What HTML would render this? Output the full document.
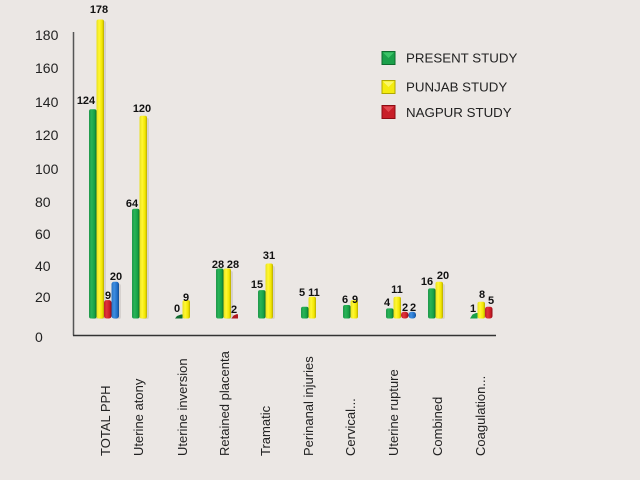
<!DOCTYPE html>
<html><head><meta charset="utf-8"><style>
html,body{margin:0;padding:0;background:#ebe7e4;}
svg{display:block;}
text{font-family:"Liberation Sans",Arial,sans-serif;}
</style></head><body>
<svg width="640" height="480" viewBox="0 0 640 480" xmlns="http://www.w3.org/2000/svg">
<defs>
<linearGradient id="g" x1="0" x2="1" y1="0" y2="0"><stop offset="0" stop-color="#20964a"/><stop offset="0.35" stop-color="#28b457"/><stop offset="0.75" stop-color="#17a045"/><stop offset="1" stop-color="#0d6b2e"/></linearGradient>
<linearGradient id="y" x1="0" x2="1" y1="0" y2="0"><stop offset="0" stop-color="#e6de1c"/><stop offset="0.35" stop-color="#fff734"/><stop offset="0.75" stop-color="#f2e600"/><stop offset="1" stop-color="#b5aa00"/></linearGradient>
<linearGradient id="r" x1="0" x2="1" y1="0" y2="0"><stop offset="0" stop-color="#c02028"/><stop offset="0.35" stop-color="#e0343c"/><stop offset="0.75" stop-color="#c81c26"/><stop offset="1" stop-color="#8c0c14"/></linearGradient>
<linearGradient id="b" x1="0" x2="1" y1="0" y2="0"><stop offset="0" stop-color="#2870c0"/><stop offset="0.35" stop-color="#3e8ee0"/><stop offset="0.75" stop-color="#2270c8"/><stop offset="1" stop-color="#134c90"/></linearGradient>
</defs>
<rect width="640" height="480" fill="#ebe7e4"/>

<!-- axes -->
<line x1="73.5" y1="32" x2="73.5" y2="335.5" stroke="#555" stroke-width="1.5"/>
<line x1="73" y1="335.5" x2="496" y2="335.5" stroke="#333" stroke-width="1.5"/>

<!-- y tick labels -->
<g font-size="14" fill="#222">
<text x="35" y="40">180</text>
<text x="35" y="73">160</text>
<text x="35" y="107">140</text>
<text x="35" y="140">120</text>
<text x="35" y="174">100</text>
<text x="35" y="207">80</text>
<text x="35" y="239">60</text>
<text x="35" y="271">40</text>
<text x="35" y="302">20</text>
<text x="35" y="342">0</text>
</g>

<!-- bar shadows -->
<g fill="#c9c4c0" opacity="0.6">
<rect x="91" y="111" width="7.5" height="208" rx="2"/>
<rect x="98.5" y="21" width="7.5" height="298" rx="2"/>
<rect x="113.5" y="284" width="7.5" height="35" rx="2"/>
<rect x="141.5" y="118" width="7.5" height="201" rx="2"/>
<rect x="225.5" y="271" width="7.5" height="48" rx="2"/>
<rect x="267.5" y="266" width="7.5" height="53" rx="2"/>
<rect x="437.5" y="284" width="7.5" height="35" rx="2"/>
</g>

<!-- bars -->
<rect x="89" y="109.2" width="7.5" height="209.3" rx="2" fill="url(#g)"/>
<rect x="96.5" y="19.5" width="7.5" height="299" rx="2" fill="url(#y)"/>
<rect x="104" y="300.1" width="7.5" height="18.4" rx="2.5" fill="url(#r)"/>
<rect x="111.5" y="281.8" width="7.5" height="36.7" rx="2.5" fill="url(#b)"/>
<rect x="132" y="208.8" width="7.5" height="109.7" rx="2" fill="url(#g)"/>
<rect x="139.5" y="115.8" width="7.5" height="202.7" rx="2" fill="url(#y)"/>
<polygon points="175,318.5 177,316 181,314.5 182.5,314.5 182.5,318.5" fill="#0e6b2e"/>
<rect x="182.5" y="300.1" width="7.5" height="18.4" rx="2" fill="url(#y)"/>
<rect x="216" y="268.5" width="7.5" height="50" rx="2" fill="url(#g)"/>
<rect x="223.5" y="268.5" width="7.5" height="50" rx="2" fill="url(#y)"/>
<polygon points="231.5,318.5 233.5,315.5 237,314 238,314.5 238,318.5" fill="#b01820"/>
<rect x="258" y="290.1" width="7.5" height="28.4" rx="2" fill="url(#g)"/>
<rect x="265.5" y="263.5" width="7.5" height="55" rx="2" fill="url(#y)"/>
<rect x="301" y="306.7" width="7.5" height="11.8" rx="2" fill="url(#g)"/>
<rect x="308.5" y="296.7" width="7.5" height="21.8" rx="2" fill="url(#y)"/>
<rect x="343" y="305" width="7.5" height="13.5" rx="2" fill="url(#g)"/>
<rect x="350.5" y="300.1" width="7.5" height="18.4" rx="2" fill="url(#y)"/>
<rect x="386" y="308.4" width="7.5" height="10.1" rx="2" fill="url(#g)"/>
<rect x="393.5" y="296.7" width="7.5" height="21.8" rx="2" fill="url(#y)"/>
<rect x="401" y="311.7" width="7.5" height="6.8" rx="3" fill="url(#r)"/>
<rect x="408.5" y="311.7" width="7.5" height="6.8" rx="3" fill="url(#b)"/>
<rect x="428" y="288.4" width="7.5" height="30.1" rx="2" fill="url(#g)"/>
<rect x="435.5" y="281.8" width="7.5" height="36.7" rx="2" fill="url(#y)"/>
<polygon points="470,318.5 472.5,314.5 476,313 477.5,313 477.5,318.5" fill="#18a048"/>
<rect x="477.5" y="301.7" width="7.5" height="16.8" rx="2" fill="url(#y)"/>
<rect x="485" y="306.7" width="7.5" height="11.8" rx="2.5" fill="url(#r)"/>

<!-- value labels -->
<g font-size="11" font-weight="bold" fill="#111" text-anchor="middle">
<text x="86" y="104">124</text>
<text x="99" y="13">178</text>
<text x="108" y="299">9</text>
<text x="116" y="280">20</text>
<text x="132" y="207">64</text>
<text x="142" y="112">120</text>
<text x="177" y="312">0</text>
<text x="186" y="301">9</text>
<text x="218" y="268">28</text>
<text x="233" y="268">28</text>
<text x="234" y="313">2</text>
<text x="257" y="288">15</text>
<text x="269" y="259">31</text>
<text x="302" y="296">5</text>
<text x="314" y="296">11</text>
<text x="345" y="303">6</text>
<text x="355" y="303">9</text>
<text x="387" y="306">4</text>
<text x="397" y="293">11</text>
<text x="405" y="311">2</text>
<text x="413" y="311">2</text>
<text x="427" y="285">16</text>
<text x="443" y="279">20</text>
<text x="473" y="312">1</text>
<text x="482" y="298">8</text>
<text x="491" y="304">5</text>
</g>

<!-- x labels -->
<g font-size="13" fill="#222">
<text transform="translate(110,456) rotate(-90)">TOTAL PPH</text>
<text transform="translate(143,456) rotate(-90)">Uterine atony</text>
<text transform="translate(187,456) rotate(-90)">Uterine inversion</text>
<text transform="translate(229,456) rotate(-90)">Retained placenta</text>
<text transform="translate(270,456) rotate(-90)">Tramatic</text>
<text transform="translate(313,456) rotate(-90)">Perinanal injuries</text>
<text transform="translate(355,456) rotate(-90)">Cervical...</text>
<text transform="translate(398,456) rotate(-90)">Uterine rupture</text>
<text transform="translate(442,456) rotate(-90)">Combined</text>
<text transform="translate(485,456) rotate(-90)">Coagulation...</text>
</g>

<!-- legend -->
<rect x="382" y="51.5" width="13" height="13" fill="#1aa04a" stroke="#0e6b2e" stroke-width="1"/>
<polygon points="383,52.5 394,52.5 388.5,58" fill="#3cc468"/>
<rect x="382" y="80.5" width="13" height="13" fill="#f4ec10" stroke="#b0a800" stroke-width="1"/>
<polygon points="383,81.5 394,81.5 388.5,87" fill="#fbf76a"/>
<rect x="382" y="105.5" width="13" height="13" fill="#c81e28" stroke="#8c0c14" stroke-width="1"/>
<polygon points="383,106.5 394,106.5 388.5,112" fill="#e24850"/>
<g font-size="13.3" fill="#222">
<text x="406" y="62.5">PRESENT STUDY</text>
<text x="406" y="91.5">PUNJAB STUDY</text>
<text x="406" y="117">NAGPUR STUDY</text>
</g>
</svg>
</body></html>
